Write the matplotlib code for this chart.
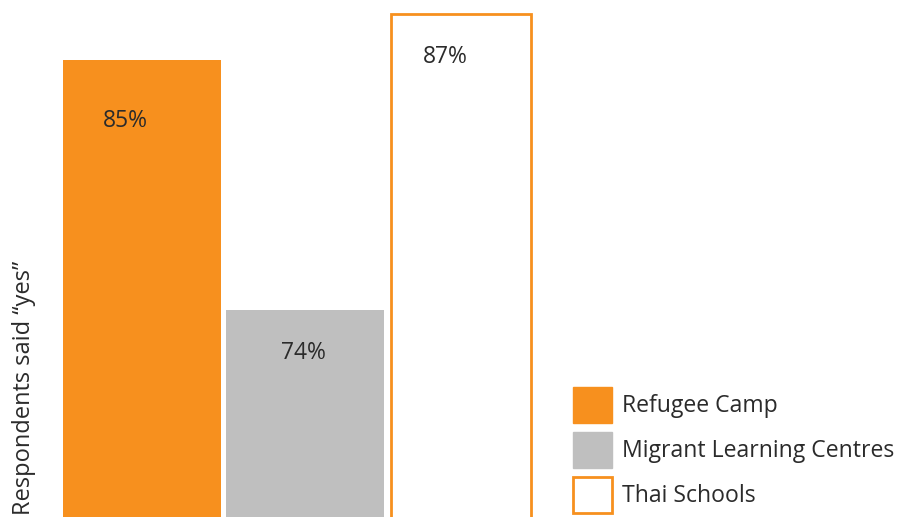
import matplotlib.pyplot as plt
import numpy as np
from matplotlib.patches import Patch

categories = ["Refugee Camp", "Migrant Learning Centres", "Thai Schools"]
values = [85, 74, 87]
labels = ["85%", "74%", "87%"]

orange = "#F7901E"
grey = "#BFBFBF"
text_col = "#2b2b2b"

plt.rcParams['font.family'] = ['Open Sans', 'DejaVu Sans']

fig = plt.figure(figsize=(9, 5.17), dpi=100)
ax = fig.add_axes([0, 0, 1, 1])
ax.axis('off')

x = np.arange(len(categories))
ax.bar(x[0], values[0], width=0.97, color=orange)
ax.bar(x[1], values[1], width=0.97, color=grey)
ax.bar(x[2] - 0.045, values[2], width=0.86, facecolor='white', edgecolor=orange, linewidth=2)

ax.set_xlim(-0.871, 4.65)
ax.set_ylim(64.9, 87.62)

# label offsets in pixels (dx, dy) relative to bar top centre
offs = [(-17, -61), (-2, -43), (-23, -43)]
for xi, v, lab, (dx, dy) in zip(x, values, labels, offs):
    ax.annotate(lab, (xi, v), xytext=(dx * 0.72, dy * 0.72), textcoords='offset points',
                ha='center', va='center', fontsize=16.5, color=text_col)

fig.text(12 / 900, 2 / 517, "Respondents said \u201cyes\u201d", rotation=90,
         ha='left', va='bottom', fontsize=17, color=text_col)

handles = [Patch(facecolor=orange, edgecolor=orange),
           Patch(facecolor=grey, edgecolor=grey),
           Patch(facecolor='white', edgecolor=orange, linewidth=2)]
fig.legend(handles, categories, loc='upper left', bbox_to_anchor=(573 / 900, 1 - 387 / 517),
           frameon=False, fontsize=16.6, handlelength=1.69, handleheight=2.02,
           handletextpad=0.45, labelspacing=0.39, borderpad=0, borderaxespad=0,
           labelcolor=text_col)

fig.savefig("out.png", dpi=100)
